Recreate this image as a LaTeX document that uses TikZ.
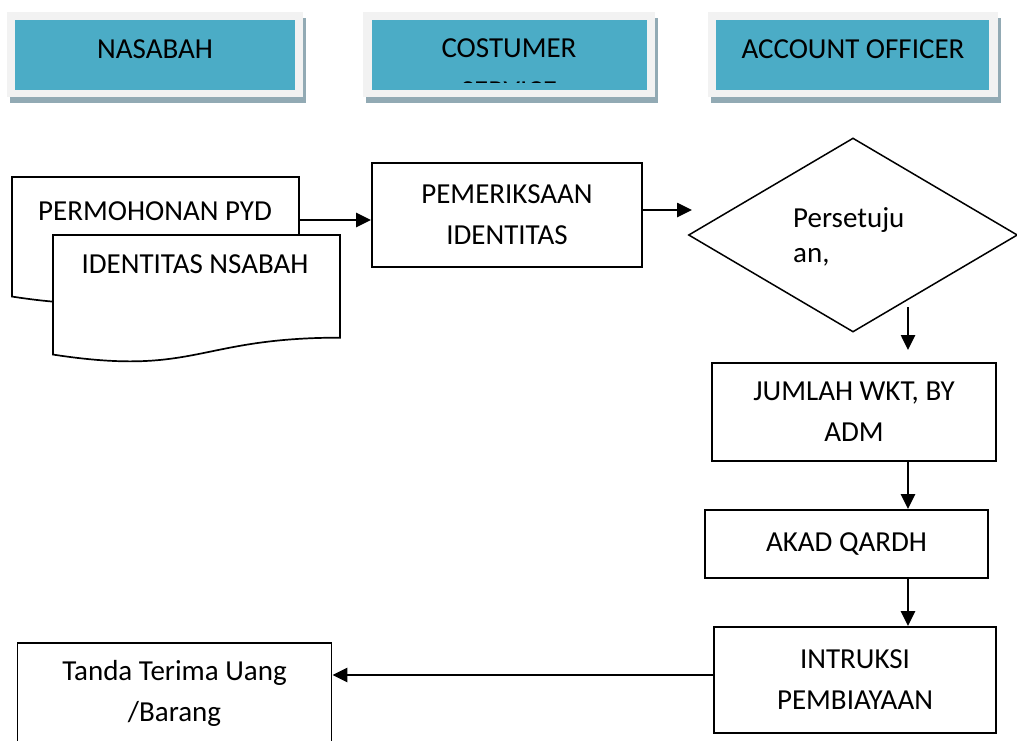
\documentclass[tikz,border=0pt]{standalone}
\usepackage{fontspec}
\setmainfont{Carlito}
\usetikzlibrary{arrows.meta,shapes.geometric,shadows,calc}
\definecolor{hdrblue}{RGB}{75,172,198}
\definecolor{framegray}{RGB}{242,242,242}
\definecolor{shadowgray}{RGB}{146,170,180}
\tikzset{
  hdrframe/.style={fill=framegray, minimum height=85pt, inner sep=0pt,
    drop shadow={shadow xshift=3pt, shadow yshift=-6pt, fill=shadowgray, opacity=1}},
  hdrbox/.style={fill=hdrblue, minimum height=70pt, inner sep=0pt},
  hdrtext/.style={anchor=base, inner sep=0pt},
  box/.style={draw, line width=1.9pt, inner sep=0pt, align=center},
  docbox/.style={inner sep=0pt, outer sep=0pt, minimum width=287pt, minimum height=128pt},
  arr/.style={line width=2.6pt, -{Triangle[length=15pt,width=14pt]}},
}
% dokumen dengan bawah bergelombang
\newcommand{\docpath}[1]{%
  \draw[fill=white, line width=1.7pt] (#1.north west) -- (#1.north east)
    -- ($(#1.north east)!0.802!(#1.south east)$)
    .. controls ($(#1.north)!0.802!(#1.south)$) and ($(#1.north)!1.107!(#1.south)$)
    .. ($(#1.north west)!0.934!(#1.south west)$) -- cycle;}
\begin{document}
\begin{tikzpicture}[x=1pt,y=-1pt,font=\fontsize{29pt}{41pt}\selectfont]
  \useasboundingbox (0,0) rectangle (1017,740);
  \clip (0,0) rectangle (1017,740);
  \fill[white] (0,0) rectangle (1017,740);
%kepala kolom
  \node[hdrframe, minimum width=296pt] (fnasabah) at (155,54.5) {};
  \node[hdrbox, minimum width=280pt] (nasabah) at (155,55) {};
  \node[hdrtext] (tnasabah) at (155,58) {NASABAH};
  \node[hdrframe, minimum width=292pt] (fcs) at (509,54.5) {};
  \node[hdrbox, minimum width=275pt] (cs) at (509.5,55) {};
  \node[hdrtext] (tcs) at (509,57) {COSTUMER};
  \begin{scope}
    \clip (372,20) rectangle (647,82);
    \node[hdrtext] (tservice) at (509,100) {SERVICE};
  \end{scope}
  \node[hdrframe, minimum width=290pt] (fao) at (853,54.5) {};
  \node[hdrbox, minimum width=273pt] (ao) at (852.5,55) {};
  \node[hdrtext] (tao) at (853,58) {ACCOUNT OFFICER};
%dokumen nasabah
  \node[docbox] (pyd) at (155.5,241) {};
  \docpath{pyd}
  \node[hdrtext] (tpyd) at (155,220) {PERMOHONAN PYD};
  \node[docbox] (ids) at (196.5,299) {};
  \docpath{ids}
  \node[hdrtext] (tids) at (195,273) {IDENTITAS NSABAH};
%proses
  \node[box, minimum width=270pt, minimum height=104pt] (pem) at (507,215) {PEMERIKSAAN\\IDENTITAS};
  \node[draw, diamond, line width=1.5pt, inner sep=0pt, minimum width=329pt, minimum height=194pt] (setuju) at (853,235) {};
  \node[anchor=base west, inner sep=0pt] (tsetuju1) at (793,227) {Persetuju};
  \node[anchor=base west, inner sep=0pt] (tsetuju2) at (793,262) {an,};
  \node[box, minimum width=284pt, minimum height=98pt] (jml) at (854,412) {JUMLAH WKT, BY\\ADM};
  \node[box, minimum width=283pt, minimum height=68pt] (akad) at (846.5,544) {AKAD QARDH};
  \node[box, minimum width=282pt, minimum height=106pt] (intr) at (855,680) {INTRUKSI\\PEMBIAYAAN};
  \node[box, minimum width=314pt, minimum height=100pt] (tanda) at (174.5,693) {Tanda Terima Uang\\/Barang};
%panah
  \coordinate (tipA) at (692,210);
  \coordinate (dstart) at (908,307);
  \coordinate (dend) at (908,350);
  \draw[arr] ([yshift=21pt]pyd.east) -- ([yshift=21pt]pyd.east -| pem.west);
  \draw[arr] ([yshift=5pt]pem.east) -- (tipA);
  \draw[arr] (dstart) -- (dend);
  \draw[arr] (dstart |- jml.south) -- (dstart |- akad.north);
  \draw[arr] (dstart |- akad.south) -- (dstart |- intr.north);
  \draw[arr] ([yshift=5pt]intr.west) -- ([yshift=5pt]intr.west -| tanda.east);
\end{tikzpicture}
\end{document}
